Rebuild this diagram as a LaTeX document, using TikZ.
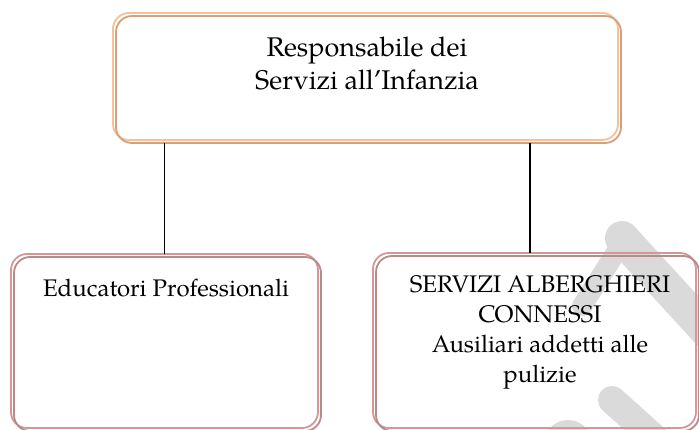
\documentclass[tikz,border=0pt]{standalone}
\usepackage{fontspec}
\setmainfont{TeX Gyre Pagella}
\definecolor{topline}{HTML}{FAC090}
\definecolor{topshadow}{HTML}{CFA283}
\definecolor{botline}{HTML}{D99594}
\definecolor{botshadow}{HTML}{B38C8C}
\definecolor{wmark}{HTML}{DADADA}
\tikzset{
  box/.style={rectangle, rounded corners=16pt, line width=1.8pt, outer sep=0pt, inner sep=0pt},
  topbox/.style={box, draw=topline},
  botbox/.style={box, draw=botline},
  shadowline/.style={rounded corners=16pt, line width=1.8pt},
  conn/.style={draw=black, line width=1.3pt},
  toptext/.style={font=\fontsize{27}{33}\selectfont, align=center, inner sep=0pt},
  bottext/.style={font=\fontsize{24}{30}\selectfont, align=center, inner sep=0pt},
  wm/.style={draw=wmark, line cap=round}
}
\begin{document}
\begin{tikzpicture}[x=1pt,y=-1pt]
\useasboundingbox (0,0) rectangle (699,430);
\begin{scope}
\clip (0,0) rectangle (699,430);
% watermark
\draw[wm, line width=34pt] (622,238) -- (730,356);
\draw[wm, line width=20pt] (582,306) -- (620,246);
\draw[wm, line width=28pt] (612,400) -- (690,470);
\fill[wmark] (568,444) circle (24);
% boxes
\node[topbox, minimum width=505pt, minimum height=127pt] (top) at (365.5,76.5) {};
\node[botbox, minimum width=307pt, minimum height=174pt] (left) at (164.5,341) {};
\node[botbox, minimum width=323pt, minimum height=175pt] (right) at (534.5,340.5) {};
\draw[shadowline, draw=topshadow] ([xshift=3pt,yshift=-3pt]top.north west) rectangle ([xshift=3pt,yshift=-3pt]top.south east);
\draw[shadowline, draw=botshadow] ([xshift=3pt,yshift=-3pt]left.north west) rectangle ([xshift=3pt,yshift=-3pt]left.south east);
\draw[shadowline, draw=botshadow] ([xshift=3pt,yshift=-3pt]right.north west) rectangle ([xshift=3pt,yshift=-3pt]right.south east);
% texts
\node[toptext] (ttop) at (367,63) {Responsabile dei\\ Servizi all’Infanzia};
\node[bottext] (tleft) at (166,288) {Educatori Professionali};
\node[bottext] (tright) at (540,332) {SERVIZI ALBERGHIERI\\CONNESSI\\Ausiliari addetti alle\\pulizie};
% connectors
\draw[conn] ([yshift=-3pt]top.south -| left.north) -- (left.north);
\draw[conn] ([xshift=-4.5pt,yshift=-3pt]top.south -| right.north) -- ([xshift=-4.5pt]right.north);
\end{scope}
\end{tikzpicture}
\end{document}
